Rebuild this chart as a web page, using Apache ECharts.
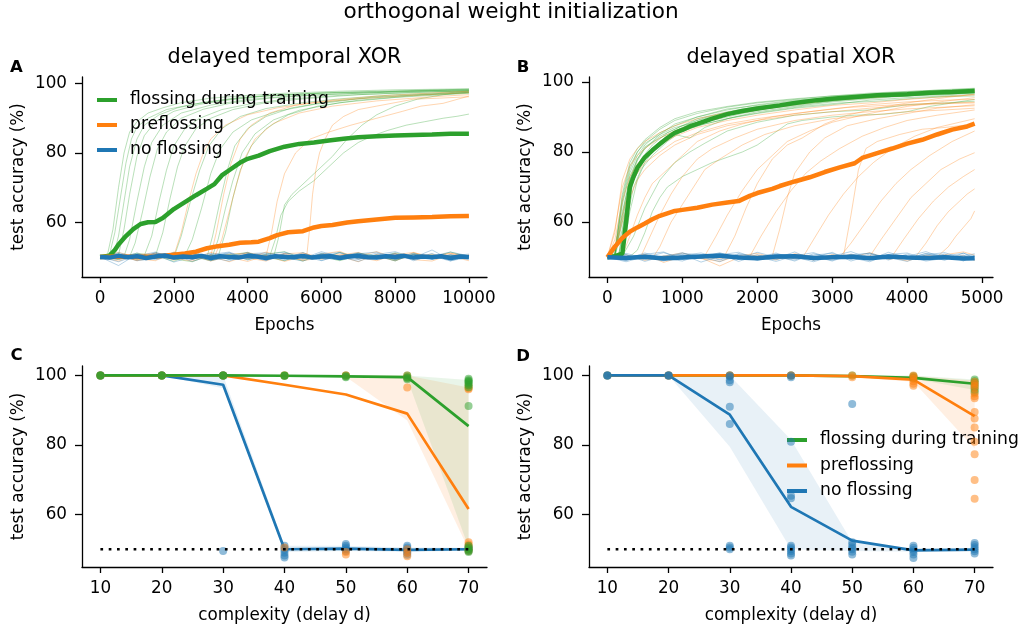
<!DOCTYPE html>
<html><head><meta charset="utf-8">
<script src="https://cdn.jsdelivr.net/npm/echarts@6/dist/echarts.min.js"></script>
<style>html,body{margin:0;padding:0;background:#fff}#c{width:1021px;height:630px}</style>
</head><body><div id="c"></div>
<script>
// ---------------- DATA ----------------
const seriesNames = ['flossing during training', 'preflossing', 'no flossing'];
const titleMain = 'orthogonal weight initialization';
const panelTitles = ['delayed temporal XOR', 'delayed spatial XOR'];
const panelLetters = ['A', 'B', 'C', 'D'];
const ticksEpochA = [0, 2000, 4000, 6000, 8000, 10000];
const ticksEpochB = [0, 1000, 2000, 3000, 4000, 5000];
const ticksDelay = [10, 20, 30, 40, 50, 60, 70];
const ticksAcc = [60, 80, 100];

// Panel A: individual runs (epoch, accuracy)
const aGreenRuns = [
 [[0,50],[200,50.6],[350,58],[500,70],[650,80],[800,86],[1000,89],[1300,91.5],[1700,93],[2200,94.5],[3000,95.8],[4000,96.6],[5000,97.2],[6500,97.8],[8000,98.2],[10000,98.5]],
 [[0,49.5],[250,50.3],[400,57],[550,67],[700,77],[850,84],[1000,87.5],[1300,90],[1800,92.5],[2500,94],[3500,95.5],[4500,96.5],[6000,97.3],[7500,97.6],[9000,98],[10000,98.2]],
 [[0,50.5],[350,49.8],[500,56],[650,66],[800,76],[1000,84],[1200,88],[1600,91],[2100,93],[2800,94.6],[3800,96],[5000,96.8],[6500,97.5],[8000,97.9],[10000,98.4]],
 [[0,50],[500,50.5],[650,58],[800,68],[1000,79],[1200,85],[1500,89],[2000,92],[2700,94],[3500,95.3],[4500,96.4],[6000,97.2],[7500,97.6],[9000,98.1],[10000,98]],
 [[0,49.6],[650,50.2],[800,55],[1000,66],[1200,76],[1400,83],[1700,88],[2200,91.5],[3000,93.8],[4000,95.4],[5000,96.3],[6500,97],[8000,97.6],[10000,98.3]],
 [[0,50.3],[800,50],[950,54],[1150,63],[1350,73],[1550,81],[1800,86],[2200,90],[2800,92.6],[3600,94.5],[4600,95.8],[6000,96.8],[7500,97.4],[9000,97.8],[10000,97.6]],
 [[0,50],[1200,50.4],[1400,56],[1600,66],[1800,75],[2000,82],[2300,87],[2700,90],[3300,92.5],[4000,94],[5000,95.5],[6500,96.6],[8000,97.2],[10000,97.9]],
 [[0,49.7],[1500,50.3],[1700,57],[1900,67],[2100,76],[2300,82],[2600,87],[3000,90],[3600,92.5],[4500,94.5],[5500,95.6],[7000,96.8],[8500,97.5],[10000,98]],
 [[0,50.2],[2000,49.8],[2200,56],[2450,66],[2700,75],[2950,82],[3300,87],[3800,90.5],[4500,92.8],[5500,94.5],[6500,95.6],[8000,96.8],[10000,97.6]],
 [[0,49.8],[2300,50.4],[2500,55],[2750,64],[3000,74],[3250,81],[3600,86],[4100,89.5],[4800,92],[5800,94],[7000,95.6],[8500,96.7],[10000,97.3]],
 [[0,50.1],[2900,50],[3050,56],[3250,66],[3450,75],[3650,82],[4000,87],[4500,90.5],[5200,93],[6200,94.8],[7500,96.2],[9000,97],[10000,97.8]],
 [[0,50],[3050,50.3],[3200,55],[3400,64],[3600,72],[3850,80],[4200,85.5],[4700,89.5],[5400,92.3],[6500,94.5],[8000,96],[10000,97.2]],
 [[0,49.9],[3200,50.1],[3400,57],[3600,67],[3800,75],[4100,82],[4500,87],[5100,91],[5900,93.5],[7000,95.2],[8500,96.5],[10000,97.5]],
 [[0,50],[4600,50.2],[4750,55],[4900,62],[5100,66],[5400,69],[5800,72],[6200,76],[6600,80],[7000,83],[7400,85],[7800,86.5],[8300,88],[8800,89],[9300,90],[9700,90.6],[10000,91.2]],
 [[0,50.3],[4700,49.8],[4850,56],[5000,65],[5200,68],[5500,71],[5900,75],[6300,79],[6700,84],[7100,88],[7500,91],[8000,93.5],[8600,95.5],[9300,96.8],[10000,97.5]]
];
const aOrangeRuns = [
 [[0,50],[2000,50.3],[2200,57],[2400,66],[2600,74],[2800,80],[3000,84],[3400,88],[4000,91],[4800,93],[5800,94.5],[7000,95.6],[8500,96.6],[10000,97.4]],
 [[0,49.8],[3000,50.2],[3150,57],[3350,68],[3550,77],[3800,84],[4100,88],[4600,91.5],[5300,93.8],[6300,95.2],[7500,96.4],[9000,97.3],[10000,97.8]],
 [[0,50],[3100,50],[3300,55],[3500,63],[3700,71],[3900,78],[4200,84],[4700,88.5],[5400,91.5],[6300,93.5],[7500,95],[9000,96.2],[10000,96.8]],
 [[0,50.2],[4500,50.3],[4650,57],[4800,66],[5000,74],[5300,80],[5700,84],[6200,86],[6800,88],[7500,90],[8200,92],[8700,93.5],[9300,94.3],[10000,96.4]],
 [[0,49.8],[5600,50],[5680,58],[5760,68],[5850,75],[5950,80],[6100,84],[6300,88],[6600,90.5],[7000,92.5],[7500,93.5],[8000,94.5],[8500,95.5],[9200,95.8],[10000,96.2]]
];
const aFlatEpochs = [0,500,1000,1500,2000,2500,3000,3500,4000,4500,5000,5500,6000,6500,7000,7500,8000,8500,9000,9500,10000];
const aGreenFlat = [
 [50,49.2,50.8,49.6,51.2,50.1,48.9,50.5,51.3,49.4,50.2,48.8,50.9,49.7,51.1,50.3,49.1,50.6,49.8,51.4,50],
 [50,50.9,49.3,50.4,48.7,51,49.9,50.7,49.2,50.8,51.5,49.6,50.1,48.9,50.4,49.5,51.2,49.9,50.6,49.3,50.2],
 [50,49.6,51.1,50.2,49.4,48.6,50.6,49.3,50.9,49.9,48.9,50.7,49.5,51.3,49.8,50.5,48.8,51,49.6,50.4,49.7]
];
const aOrangeFlat = [
 [50,50.4,49,51.2,49.8,50.5,48.8,50.3,49.6,51.4,50,49.1,50.8,51.6,49.4,50.2,48.9,50.7,49.8,51,50.3],
 [50,48.8,50.6,49.7,50.9,49.2,51.3,49.9,48.7,50.4,49.5,51.1,49.8,50.2,48.6,50.8,49.3,51.2,50.1,49.4,50.6],
 [50,50.2,49.5,48.9,51.4,50.3,49.7,50.8,51.1,49.3,50.6,48.9,49.8,50.5,51.3,49.6,50.9,49.2,48.8,50.7,49.9],
 [50,51.3,49.9,50.5,49.1,50.8,50.2,48.6,50.4,49.8,51,49.5,50.7,49.2,50.3,51.5,49.7,50.1,50.8,49.3,50.5],
 [50,49.4,50.7,51,49.6,48.8,50.5,49.9,51.2,50.4,48.7,50.1,49.6,50.9,49.9,48.9,50.6,51.3,49.5,50.2,48.9],
 [50,50.6,48.9,49.8,50.3,51.5,49.4,50.1,49.7,48.8,50.9,51.2,49.3,50.4,50.8,49.5,51,49.6,50.3,51.1,49.8]
];
const aBlueFlat = [
 [50,48.6,50.5,49.8,51,49.3,50.7,51.4,49.5,50.2,49,50.6,49.9,51.2,49.4,50.3,51,48.9,50.5,49.7,50.1],
 [50,50.9,49.4,51.2,49.7,50.4,48.9,50,51.3,49.2,50.8,49.6,51.5,50.1,48.7,50.5,49.6,51.1,49.3,50.7,49.6],
 [50,49.7,51.1,49.2,50.3,51.6,49.8,48.8,50.6,50.9,49.4,51.3,49,50.2,51.2,49.5,50.4,49.8,52,49.1,50.4],
 [50,51.2,49.9,50.6,48.5,50.1,51,49.6,50.3,48.9,51.1,50.4,49.7,49.2,50.9,51.4,49.3,50.6,49.9,50.3,50.8],
 [50,49.3,50.2,51.4,49.6,50.8,49.9,51.1,49.1,50.5,49.8,48.8,50.7,51.3,49.5,49.9,50.8,49.4,51,48.9,49.8],
 [50,50.5,48.9,49.5,51.3,49.8,50.6,49.3,50.9,51.2,49.6,50.2,48.9,50.5,49.7,51.1,49.2,50.7,50.2,51.4,50.3],
 [50,47.5,50.8,50.1,49.4,51,49.1,50.4,49.8,50.7,51.4,49.5,50.9,49.6,51,50.2,48.9,50.8,49.4,50.5,49.6],
 [50,50.1,49.6,51,50.5,48.7,50.3,51.2,49.4,49.9,50.6,49.3,51.1,50,49.2,50.7,51.5,49.8,50.3,48.8,50.5]
];
// Panel A: means
const aGreenMean = [[0,50],[250,50.3],[400,52],[500,53.6],[700,56],[900,58],[1100,59.5],[1300,60],[1500,60.1],[1700,61.2],[2000,63.8],[2300,65.8],[2600,67.8],[2900,69.7],[3100,71],[3300,73.5],[3500,75],[3800,77.2],[4000,78.3],[4300,79.2],[4600,80.5],[5000,81.8],[5400,82.6],[5800,83],[6200,83.6],[6600,84.1],[7000,84.5],[7500,84.8],[8000,85],[8500,85.2],[9000,85.3],[9500,85.5],[10000,85.5]];
const aOrangeMean = [[0,50],[500,50.1],[1000,50],[1500,50.1],[2000,50.6],[2300,51],[2600,51.5],[2900,52.5],[3200,53.1],[3500,53.5],[3800,54.1],[4100,54.2],[4300,54.4],[4600,55.4],[4800,56.3],[5100,57.1],[5500,57.4],[5800,58.5],[6000,58.9],[6300,59.2],[6700,59.9],[7000,60.3],[7500,60.8],[8000,61.3],[8500,61.4],[9000,61.5],[9500,61.7],[10000,61.8]];
const aMeanEpochs = [0,250,500,750,1000,1250,1500,1750,2000,2250,2500,2750,3000,3250,3500,3750,4000,4250,4500,4750,5000,5250,5500,5750,6000,6250,6500,6750,7000,7250,7500,7750,8000,8250,8500,8750,9000,9250,9500,9750,10000];
const aBlueMean = [50,49.8,50.3,49.9,50.2,49.7,50.1,50.4,49.8,50.1,49.9,50.3,49.7,50.2,50,49.8,50.3,50.1,49.7,50.2,50,49.9,50.3,49.8,50.1,50.2,49.7,50.1,50.3,49.9,49.8,50.2,50,50.3,49.8,50.1,49.9,50.2,49.7,50.1,49.9];

// Panel B: individual runs
const bGreenRuns = [
 [[0,50],[100,50.5],[200,62],[300,73],[400,78],[500,81],[700,85],[900,88],[1200,90],[1600,92],[2000,93.5],[2500,94.8],[3000,95.5],[3500,96.3],[4000,96.8],[4500,97.2],[4900,97.6]],
 [[0,50],[100,51],[200,66],[300,75],[400,80],[500,83],[700,86.5],[900,89],[1200,91],[1600,92.8],[2000,94],[2500,95],[3000,96],[3500,96.5],[4000,97.2],[4500,97.8],[4900,98.2]],
 [[0,50],[100,50.2],[200,58],[300,70],[400,76],[500,79],[700,83],[900,86],[1200,88.5],[1600,90.5],[2000,92],[2500,93.6],[3000,94.6],[3500,95.5],[4000,96.2],[4500,96.8],[4900,97]],
 [[0,50],[150,50.5],[250,64],[350,73],[450,78],[600,82],[800,85.5],[1000,87.5],[1300,89.8],[1700,91.7],[2100,93],[2600,94.5],[3100,95.3],[3600,96.2],[4100,96.6],[4500,97.3],[4900,97.9]],
 [[0,50],[100,52],[200,68],[300,77],[400,81],[500,83.5],[700,87],[900,89.5],[1200,91.5],[1600,93],[2000,94.2],[2500,95.2],[3000,96],[3500,96.8],[4000,97.3],[4500,97.7],[4900,98]],
 [[0,50],[150,50],[250,60],[350,70],[450,75],[600,79],[800,83],[1000,86],[1300,88.5],[1700,90.5],[2100,92.3],[2600,93.5],[3100,94.8],[3600,95.6],[4100,96.2],[4500,96.5],[4900,96.8]],
 [[0,50],[100,50.8],[200,63],[300,72],[400,77.5],[500,81],[700,84.5],[900,86.5],[1200,89.5],[1600,91.5],[2000,93],[2500,94],[3000,95.2],[3500,96],[4000,96.5],[4500,97],[4900,97.5]],
 [[0,50],[200,50.5],[300,63],[400,72],[500,77],[600,80],[800,83.5],[1000,86],[1300,88],[1700,90],[2100,91.5],[2600,93],[3100,94],[3600,94.5],[4100,95.3],[4500,95.8],[4900,96]],
 [[0,50],[100,51.5],[200,65],[300,74],[400,79],[500,82],[700,85.5],[900,87.5],[1200,90],[1600,92.3],[2000,93.3],[2500,94.5],[3000,95.7],[3500,96.4],[4000,97],[4500,97.4],[4900,97.3]],
 [[0,50],[100,50.3],[200,60],[300,71],[400,75],[500,78],[700,82],[900,85],[1200,87.5],[1600,89.5],[2000,91],[2500,92.5],[3000,93.5],[3500,94.8],[4000,95.5],[4500,96],[4900,96.5]],
 [[0,50],[100,50.6],[200,67],[300,76],[400,80],[500,82.5],[700,85],[900,87],[1100,88],[1300,88.5],[1600,91],[2000,92.5],[2500,94],[3000,95],[3500,95.8],[4000,96.8],[4500,97.5],[4900,98]],
 [[0,50],[150,50.4],[250,62],[350,72],[500,78],[700,83],[900,85],[1100,84],[1300,87],[1600,89.5],[2000,91.5],[2500,93],[3000,94.3],[3500,95.2],[4000,96],[4500,96.3],[4900,97]],
 [[0,50],[100,50.9],[200,61],[300,72],[400,78],[500,81.5],[700,84],[900,86],[1200,89],[1600,91],[2000,92.5],[2500,93.8],[3000,95],[3500,95.7],[4000,96],[4500,96.8],[4900,97.2]],
 [[0,50],[200,50.3],[350,56],[500,64],[700,72],[900,77],[1100,80],[1300,82.5],[1600,86],[2000,88.5],[2500,90.5],[3000,91.5],[3500,92],[4000,93.5],[4500,94],[4900,94.5]],
 [[0,50],[300,50.2],[400,52],[500,57],[600,63],[700,67],[800,70],[1000,73],[1200,75],[1400,77],[1600,78.5],[1800,80],[2000,82],[2200,85],[2400,88],[2600,89],[3000,90],[3300,90.5],[3700,90.8],[4000,91.5],[4300,93],[4600,94],[4900,95]]
];
const bOrangeRuns = [
 [[0,50],[100,58],[200,70],[300,76],[400,79],[500,81],[700,84],[900,86],[1200,88.5],[1600,90.5],[2000,92],[2500,93.5],[3000,94.8],[3500,95.5],[4000,96.2],[4500,96.8],[4900,97.2]],
 [[0,50],[100,55],[200,66],[300,73],[400,76.5],[500,79],[700,82],[900,84.5],[1200,87],[1600,89],[2000,90.5],[2500,92],[3000,93.3],[3500,94],[4000,95],[4500,95.8],[4900,96.3]],
 [[0,50],[100,53],[200,62],[300,70],[400,74],[500,77],[700,80],[900,83],[1200,85.5],[1600,88],[2000,89.5],[2500,91],[3000,92.3],[3500,93.5],[4000,94.3],[4500,94.8],[4900,95]],
 [[0,50],[100,57],[200,72],[300,78],[400,81],[500,83],[700,85.5],[900,87.5],[1200,89.5],[1600,91.3],[2000,92.8],[2500,94.2],[3000,95.2],[3500,95.9],[4000,96.5],[4500,97],[4900,97.5]],
 [[0,50],[100,52],[200,60],[300,67],[400,72],[500,75],[700,79],[900,82],[1200,85],[1600,87.5],[2000,89],[2500,90.5],[3000,91.5],[3500,92.5],[4000,93.3],[4500,93.8],[4900,94]],
 [[0,50],[200,50.5],[300,56],[400,62],[500,67],[600,71],[800,75],[1000,79],[1200,83],[1500,86],[1800,88],[2200,90],[2700,91.5],[3200,92.7],[3700,93.3],[4200,93.8],[4900,94.2]],
 [[0,50],[450,50.3],[550,55],[700,62],[850,68],[1000,73],[1200,78],[1400,81],[1700,84],[2000,86.5],[2500,89],[3000,90.5],[3500,91.5],[4000,92.3],[4500,92.8],[4900,93.2]],
 [[0,50],[600,49.6],[700,53],[850,60],[1000,65],[1150,70],[1300,75],[1500,78],[1800,82],[2100,85],[2500,87.5],[3000,89.5],[3500,90.5],[4000,91.5],[4500,92],[4900,92.5]],
 [[0,50],[1300,50.4],[1450,56],[1600,62],[1800,69],[2000,75],[2200,79],[2400,83],[2700,86],[3000,88.5],[3500,91],[4000,93],[4500,94.5],[4900,95.5]],
 [[0,50],[1550,49.8],[1700,56],[1850,64],[2000,71],[2200,78],[2400,82],[2600,84],[2900,88],[3200,90.5],[3600,92.5],[4000,94],[4500,95.5],[4900,96.5]],
 [[0,50],[1900,50.2],[2050,56],[2250,63],[2450,69],[2650,74],[2850,77.5],[3100,81],[3400,84.5],[3700,87],[4000,89],[4400,90.5],[4900,92]],
 [[0,50],[2200,50.3],[2300,58],[2400,67],[2500,74],[2700,80],[2900,84],[3200,87.5],[3600,89.5],[4000,91],[4400,92.5],[4900,93.5]],
 [[0,50],[2600,49.7],[2750,55],[2950,62],[3150,68],[3350,73],[3550,77],[3800,81],[4100,84.5],[4400,87],[4700,88.5],[4900,89.5]],
 [[0,50],[3150,50.2],[3250,62],[3350,75],[3450,81],[3600,83],[3900,85],[4200,86.5],[4500,87],[4900,88]],
 [[0,50],[3100,50],[3250,54],[3450,60],[3650,66],[3850,71],[4050,75],[4300,79],[4600,83],[4900,86]],
 [[0,50],[3500,50.2],[3650,55],[3850,61],[4050,67],[4250,71],[4450,75],[4700,78],[4900,79.8]],
 [[0,50],[3800,50.3],[3950,55],[4150,61],[4350,66],[4550,70],[4750,73],[4900,75]],
 [[0,50],[4100,49.8],[4250,54],[4400,59],[4550,63],[4700,66],[4800,68],[4900,69.5]],
 [[0,50],[4400,50.1],[4550,53],[4650,56],[4750,58.5],[4850,61],[4900,63.2]]
];
const bFlatEpochs = [0,250,500,750,1000,1250,1500,1750,2000,2250,2500,2750,3000,3250,3500,3750,4000,4250,4500,4750,4900];
const bOrangeFlat = [
 [50,49.3,50.9,48.5,50.2,49.6,48.8,50.4,51.1,49.7,50.5,49.2,50.8,49.9,51.3,49.4,50.1,49.6,50.7,51.5,50.6],
 [50,50.7,49.1,50.3,51.2,49.8,47.5,49.9,50.6,49.2,51,50.1,49.5,50.8,49.6,50.2,48.9,50.6,49.9,50.4,49.1]
];
const bBlueFlat = [
 [50,49,50.8,51.5,49.4,50.2,48.7,50.9,49.8,51.2,49.5,50.3,48.9,50.7,51.1,49.4,50.2,51.6,49.7,50.4,49.2],
 [50,50.6,49.3,50.1,51.3,49.6,50.9,48.8,50.4,49.7,51.5,49.1,50.6,49.9,48.7,50.8,51.2,49.5,50.9,48.9,50.5],
 [50,49.5,51.2,49.8,48.9,50.7,49.4,51,50.2,48.8,50.4,51.3,49.6,50.1,49.3,51.4,49.8,50.5,49.1,51.2,49.7],
 [50,51.1,49.7,50.4,50.8,48.6,50.3,49.5,51.4,50,49.2,50.6,51.1,49.4,50.9,49.9,48.8,50.7,51.3,49.6,50.1],
 [50,49.2,50.4,48.9,50.6,51.2,49.9,50.5,49.3,50.9,50.1,48.7,50.3,51.6,49.6,50.4,49.5,51,49.8,50.6,49.4],
 [50,50.8,48.8,50.3,49.6,49.9,51.3,49.4,50.7,49.5,50.2,49.9,51.4,48.9,50.5,49.2,50.9,49.3,50.4,51.1,50.2],
 [50,48.7,50.2,49.6,51.1,50.5,49.2,50.6,49.1,50.3,48.9,51,49.7,50.3,51.2,49.8,50.4,48.9,49.7,50.2,51],
 [50,50.3,49.9,51.3,49.5,50.1,50.7,51.4,49.6,49.3,50.8,50.2,49.1,50.9,49.8,50.6,49.6,51.1,50.5,49.3,50.6]
];
const bGreenMean = [[0,50],[100,50.3],[200,51],[250,60],[300,70],[350,73],[400,75.5],[500,78.5],[600,80.5],[700,82.3],[800,84],[900,85.5],[1000,86.3],[1100,87.3],[1200,88],[1400,89.5],[1600,90.8],[1800,91.7],[2000,92.4],[2300,93.3],[2500,94],[2800,94.8],[3000,95.2],[3300,95.7],[3600,96.2],[4000,96.5],[4300,96.9],[4600,97.1],[4900,97.4]];
const bOrangeMean = [[0,50],[100,53],[200,55.5],[300,57.3],[400,58.5],[500,59.6],[600,60.8],[700,61.8],[800,62.5],[900,63.2],[1000,63.5],[1200,64.1],[1400,65],[1600,65.6],[1750,66],[1900,67.5],[2000,68.3],[2200,69.5],[2300,70.3],[2500,71.6],[2700,72.8],[2900,74.3],[3100,75.6],[3300,76.8],[3400,78.3],[3600,79.7],[3800,81],[4000,82.4],[4200,83.5],[4400,85],[4600,86.4],[4800,87.3],[4900,88.1]];
const bBlueMean = [50,49.8,50.1,49.6,49.9,50.2,50.5,49.9,49.7,50.2,50.3,49.8,50,50.1,49.7,50.2,49.9,49.8,50,49.6,49.7];

// Panels C and D
const delays = [10, 20, 30, 40, 50, 60, 70];
const chance = [[10, 50], [70, 50]];
const cGreenMean = [100, 100, 100, 99.9, 99.7, 99.5, 85.4];
const cOrangeMean = [100, 100, 100, 97.3, 94.5, 89, 61.6];
const cBlueMean = [100, 100, 97.3, 50, 50.2, 49.8, 50];
const cGreenLo = [100, 100, 100, 99.8, 99.5, 99, 50.5];
const cGreenHi = [100, 100, 100, 100, 100, 100, 98.7];
const cOrangeLo = [100, 100, 100, 100, 99.6, 87, 50];
const cOrangeHi = [100, 100, 100, 100, 100, 100, 96.5];
const cBlueLo = [100, 100, 96.3, 49.2, 49.5, 49.3, 49.6];
const cBlueHi = [100, 100, 100, 51, 51, 50.5, 50.4];
const cGreenPts = [[10,100],[10,100],[10,100],[20,100],[20,100],[20,100],[30,100],[30,100],[30,100],[40,100],[40,99.8],[40,100],[50,99.7],[50,100],[50,99.5],[60,99.5],[60,100],[60,99.2],[60,98.9],[70,99],[70,98.6],[70,98.3],[70,98],[70,97.6],[70,97.2],[70,96.6],[70,91.2],[70,51],[70,50.4],[70,50],[70,49.6],[70,49.2]];
const cOrangePts = [[10,100],[10,100],[20,100],[20,100],[30,100],[30,100],[40,100],[40,100],[40,50.5],[50,100],[50,100],[50,48.5],[50,49.2],[60,100],[60,99.5],[60,96.5],[60,50],[60,49],[60,48],[70,97],[70,96.3],[70,96],[70,52],[70,51.4],[70,50.8],[70,50],[70,49.5]];
const cBluePts = [[10,100],[10,100],[20,100],[20,100],[30,100],[30,100],[30,49.5],[40,51],[40,50.3],[40,49.7],[40,49],[40,48.2],[40,47.6],[50,51.5],[50,51],[50,50.5],[50,50],[50,49.5],[60,51],[60,50.5],[60,50],[60,49.5],[60,49],[60,48.4],[70,50.8],[70,50.3],[70,50],[70,49.6]];

const dGreenMean = [100, 100, 100, 100, 99.8, 99.3, 97.6];
const dOrangeMean = [100, 100, 100, 100, 99.8, 98.8, 88.3];
const dBlueMean = [100, 100, 88.7, 62.2, 52.5, 49.7, 49.9];
const dGreenLo = [100, 100, 100, 100, 99.6, 99, 95.8];
const dGreenHi = [100, 100, 100, 100, 100, 100, 98.8];
const dOrangeLo = [100, 100, 100, 100, 99.5, 98.2, 79];
const dOrangeHi = [100, 100, 100, 100, 100, 99.8, 98.5];
const dBlueLo = [100, 100, 79.5, 50, 49.5, 49.3, 49.5];
const dBlueHi = [100, 100, 100, 81.5, 52, 50.3, 50.3];
const dGreenPts = [[10,100],[20,100],[30,100],[40,100],[50,100],[60,99.5],[60,99.2],[60,99.8],[70,98.8],[70,98.3],[70,97.8],[70,97.2],[70,96.5],[70,95.8],[70,95.2]];
const dOrangePts = [[10,100],[20,100],[20,100],[30,100],[30,100],[40,100],[40,100],[50,100],[50,99.5],[60,100],[60,99.6],[60,99],[60,98.3],[60,97.6],[60,97],[70,98.2],[70,97.6],[70,97],[70,96.3],[70,94.8],[70,94],[70,93.4],[70,89.5],[70,87.6],[70,85],[70,80.9],[70,77.3],[70,69.9],[70,64.5]];
const dBluePts = [[10,100],[10,100],[10,100],[20,100],[20,100],[20,100],[30,100],[30,99.6],[30,98.6],[30,98],[30,91],[30,86],[30,51],[30,50.5],[30,50],[40,100],[40,99.5],[40,80.9],[40,65.4],[40,64.7],[40,51],[40,50.5],[40,50],[40,49.4],[40,48.8],[40,48.2],[50,91.8],[50,52],[50,51.2],[50,50.5],[50,50],[50,49.3],[50,48.5],[60,51],[60,50.4],[60,49.8],[60,49.2],[60,48.5],[60,47.5],[70,51.8],[70,51.2],[70,50.6],[70,50],[70,49.4],[70,48.8]];

// ---------------- STYLE / BUILD ----------------
const G = '#2ca02c', O = '#ff7f0e', B = '#1f77b4';
const FONT = 'DejaVu Sans';
const FS = 16.8;

const zip = (xs, ys) => ys.slice(0, xs.length).map((v, i) => [xs[i], v]);

function thin(ax, pts, color) {
  return { type: 'line', xAxisIndex: ax, yAxisIndex: ax, data: pts, symbol: 'none', silent: true,
    lineStyle: { width: 1, color: color, opacity: 0.33 }, itemStyle: { color: color }, z: 2 };
}
function thick(ax, pts, color, name, w) {
  return { type: 'line', name: name, xAxisIndex: ax, yAxisIndex: ax, data: pts, symbol: 'none', silent: true,
    lineStyle: { width: w, color: color }, itemStyle: { color: color }, z: 3 };
}
function band(ax, xs, lo, hi, color, op) {
  return { type: 'custom', xAxisIndex: ax, yAxisIndex: ax, silent: true, z: 2,
    data: [[xs[0], lo[0]]],
    renderItem: function (params, api) {
      const pts = [];
      for (let i = 0; i < xs.length; i++) pts.push(api.coord([xs[i], hi[i]]));
      for (let i = xs.length - 1; i >= 0; i--) pts.push(api.coord([xs[i], lo[i]]));
      return { type: 'polygon', shape: { points: pts }, style: { fill: color, opacity: op } };
    } };
}
function pts(ax, data, color) {
  return { type: 'scatter', xAxisIndex: ax, yAxisIndex: ax, data: data, symbolSize: 8, silent: true,
    itemStyle: { color: color, opacity: 0.5 }, z: 4 };
}

const series = [];
// Panel A
aGreenRuns.forEach(r => series.push(thin(0, r, G)));
aGreenFlat.forEach(v => series.push(thin(0, zip(aFlatEpochs, v), G)));
aOrangeRuns.forEach(r => series.push(thin(0, r, O)));
aOrangeFlat.forEach(v => series.push(thin(0, zip(aFlatEpochs, v), O)));
aBlueFlat.forEach(v => series.push(thin(0, zip(aFlatEpochs, v), B)));
series.push(thick(0, aGreenMean, G, seriesNames[0], 4.5));
series.push(thick(0, aOrangeMean, O, seriesNames[1], 4.5));
series.push(thick(0, zip(aMeanEpochs, aBlueMean), B, seriesNames[2], 4.5));
// Panel B
bGreenRuns.forEach(r => series.push(thin(1, r, G)));
bOrangeRuns.forEach(r => series.push(thin(1, r, O)));
bOrangeFlat.forEach(v => series.push(thin(1, zip(bFlatEpochs, v), O)));
bBlueFlat.forEach(v => series.push(thin(1, zip(bFlatEpochs, v), B)));
series.push(thick(1, bGreenMean, G, seriesNames[0], 4.5));
series.push(thick(1, bOrangeMean, O, seriesNames[1], 4.5));
series.push(thick(1, zip(bFlatEpochs, bBlueMean), B, seriesNames[2], 4.5));
// Panel C (blue, orange, green)
series.push(band(2, delays, cBlueLo, cBlueHi, B, 0.11));
series.push(band(2, delays, cOrangeLo, cOrangeHi, O, 0.12));
series.push(band(2, delays, cGreenLo, cGreenHi, G, 0.1));
series.push(thick(2, zip(delays, cBlueMean), B, seriesNames[2], 2.7));
series.push(thick(2, zip(delays, cOrangeMean), O, seriesNames[1], 2.7));
series.push(thick(2, zip(delays, cGreenMean), G, seriesNames[0], 2.7));
series.push(pts(2, cBluePts, B));
series.push(pts(2, cOrangePts, O));
series.push(pts(2, cGreenPts, G));
// Panel D (green, orange, blue)
series.push(band(3, delays, dGreenLo, dGreenHi, G, 0.1));
series.push(band(3, delays, dOrangeLo, dOrangeHi, O, 0.12));
series.push(band(3, delays, dBlueLo, dBlueHi, B, 0.1));
series.push(thick(3, zip(delays, dGreenMean), G, seriesNames[0], 2.7));
series.push(thick(3, zip(delays, dOrangeMean), O, seriesNames[1], 2.7));
series.push(thick(3, zip(delays, dBlueMean), B, seriesNames[2], 2.7));
series.push(pts(3, dGreenPts, G));
series.push(pts(3, dOrangePts, O));
series.push(pts(3, dBluePts, B));
// chance lines
[2, 3].forEach(ax => series.push({ type: 'line', xAxisIndex: ax, yAxisIndex: ax, data: chance, symbol: 'none', silent: true,
  lineStyle: { color: '#000', width: 2.7, type: [2.7, 5.6] }, z: 6 }));

const grids = [
  { left: 82, top: 77, width: 405, height: 200 },
  { left: 589, top: 77, width: 404, height: 200 },
  { left: 82, top: 366, width: 405, height: 201 },
  { left: 589, top: 366, width: 404, height: 201 }
].map(g => Object.assign({ containLabel: false, outerBoundsMode: 'none' }, g));

function xAx(i, min, max, ticks, name) {
  return { type: 'value', gridIndex: i, min: min, max: max, name: name, nameLocation: 'middle', nameGap: 40,
    nameTextStyle: { fontFamily: FONT, fontSize: FS, color: '#000' },
    axisLine: { show: true, onZero: false, lineStyle: { color: '#000', width: 1.3 } },
    axisTick: { show: true, length: 6, lineStyle: { color: '#000', width: 1.3 }, customValues: ticks },
    axisLabel: { customValues: ticks, fontFamily: FONT, fontSize: FS, color: '#000', margin: 13, formatter: v => String(v) },
    splitLine: { show: false } };
}
function yAx(i, min, max) {
  return { type: 'value', gridIndex: i, min: min, max: max, name: 'test accuracy (%)', nameLocation: 'middle', nameGap: 55,
    nameTextStyle: { fontFamily: FONT, fontSize: FS, color: '#000' },
    axisLine: { show: true, onZero: false, lineStyle: { color: '#000', width: 1.3 } },
    axisTick: { show: true, length: 7, lineStyle: { color: '#000', width: 1.3 }, customValues: ticksAcc },
    axisLabel: { customValues: ticksAcc, fontFamily: FONT, fontSize: FS, color: '#000', margin: 15, formatter: v => String(v) },
    splitLine: { show: false } };
}

const txt = (x, y, t, size, bold) => ({ type: 'text', x: x, y: y, silent: true,
  style: { text: t, font: (bold ? 'bold ' : '') + size + 'px "DejaVu Sans"', fill: '#000', align: 'center', verticalAlign: 'middle',
    textAlign: 'center', textVerticalAlign: 'middle' } });

const legendBase = { data: seriesNames, orient: 'vertical', icon: 'rect', itemWidth: 20, itemHeight: 4, selectedMode: false,
  textStyle: { fontFamily: FONT, fontSize: 17.2, color: '#000', lineHeight: 17, padding: [0, 0, 0, 8] }, padding: 0 };

const option = {
  animation: false,
  backgroundColor: '#fff',
  grid: grids,
  xAxis: [xAx(0, -490, 10490, ticksEpochA, 'Epochs'), xAx(1, -245, 5145, ticksEpochB, 'Epochs'),
          xAx(2, 7, 73, ticksDelay, 'complexity (delay d)'), xAx(3, 7, 73, ticksDelay, 'complexity (delay d)')],
  yAxis: [yAx(0, 44.2, 101.9), yAx(1, 44.35, 101.4), yAx(2, 44.9, 102.7), yAx(3, 44.9, 102.7)],
  legend: [
    Object.assign({}, legendBase, { left: 97, top: 91.5, itemGap: 8 }),
    Object.assign({}, legendBase, { left: 787, top: 431.5, itemGap: 8.5 })
  ],
  graphic: [
    txt(511, 12, titleMain, 21.6, false),
    txt(284.5, 58, panelTitles[0], 20.8, false),
    txt(791, 58, panelTitles[1], 20.8, false),
    txt(16.5, 68, panelLetters[0], 16.5, true),
    txt(523, 68, panelLetters[1], 16.5, true),
    txt(16.5, 356, panelLetters[2], 16.5, true),
    txt(523, 357, panelLetters[3], 16.5, true)
  ],
  series: series
};
const chart = echarts.init(document.getElementById('c'), null, { renderer: 'canvas' });
chart.setOption(option);
</script></body></html>
